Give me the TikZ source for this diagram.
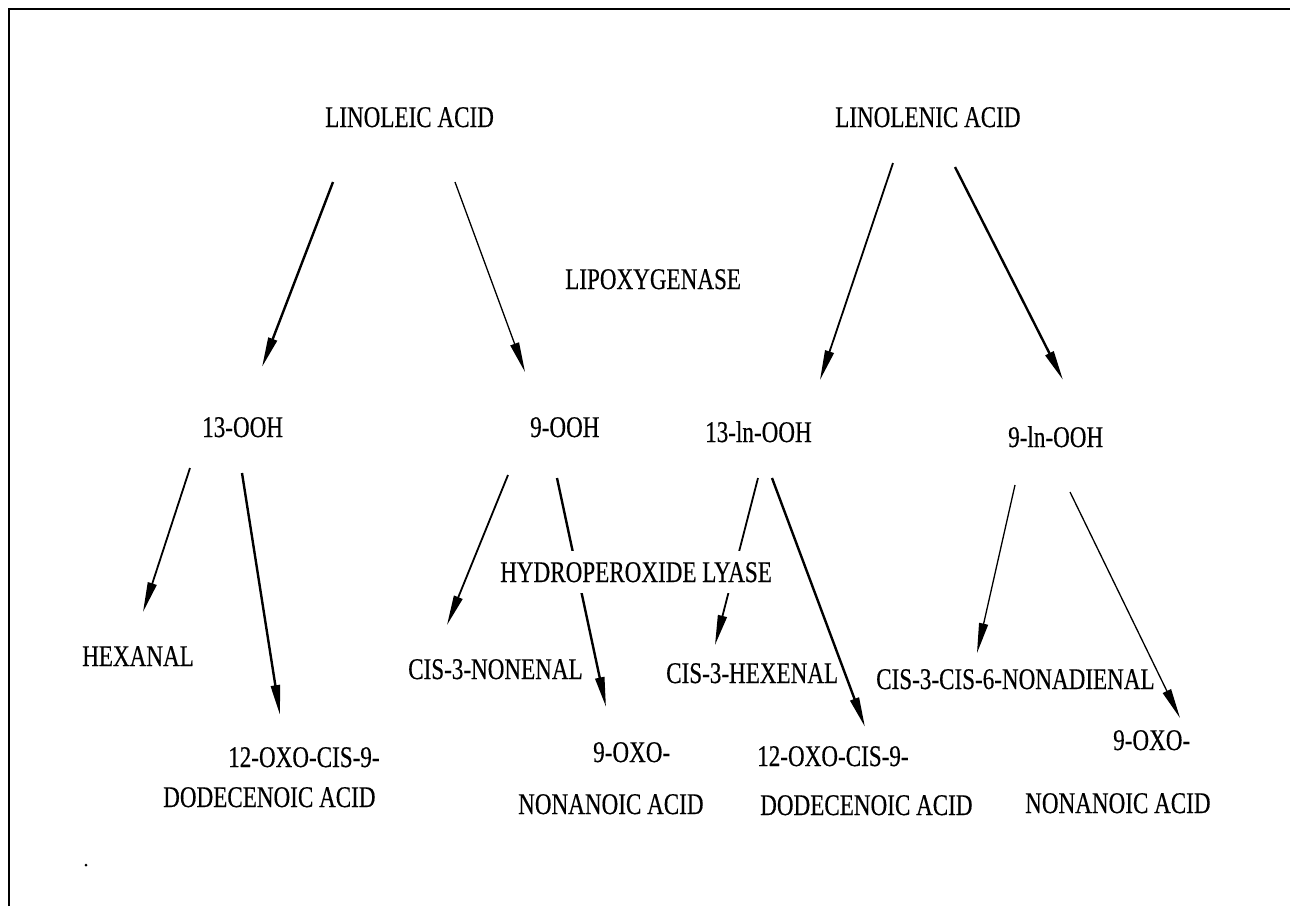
\documentclass[tikz,border=0pt]{standalone}
\usepackage{fontspec}
\setmainfont{Liberation Serif}[FakeStretch=0.77,FakeBold=0.4]
\usetikzlibrary{arrows.meta}
\begin{document}
\begin{tikzpicture}[x=1pt,y=-1pt,
  txt/.style={font=\fontsize{30}{32}\selectfont, inner sep=0pt, anchor=base west},
  arr/.style={-{Triangle[length=30pt,width=9pt]}},
  thin arr/.style={arr, line width=1.3pt},
  mid arr/.style={arr, line width=1.8pt},
  thick arr/.style={arr, line width=2.4pt}]
\useasboundingbox (0,0) rectangle (1290,906);
% frame
\coordinate (fbl) at (9,906);
\coordinate (ftl) at (9,9);
\coordinate (ftr) at (1290,9);
\draw[line width=2pt] (fbl) -- (ftl) -- (ftr);
\fill (86,865) circle (1.5);
% texts
\node[txt] (lnl) at (325,127) {LINOLEIC ACID};
\node[txt] (lnn) at (835,127) {LINOLENIC ACID};
\node[txt] (lox) at (565,289) {LIPOXYGENASE};
\node[txt] (h13) at (202,437) {13-OOH};
\node[txt] (h9) at (530,437) {9-OOH};
\node[txt] (l13) at (705,442) {13-ln-OOH};
\node[txt] (l9) at (1008,447) {9-ln-OOH};
\node[txt] (hex) at (82,666) {HEXANAL};
\node[txt] (nonenal) at (408,679) {CIS-3-NONENAL};
\node[txt] (hexenal) at (666,683) {CIS-3-HEXENAL};
\node[txt] (nonadienal) at (876,689) {CIS-3-CIS-6-NONADIENAL};
\node[txt] (oxoA) at (228,767) {12-OXO-CIS-9-};
\node[txt] (dodA) at (163,807) {DODECENOIC ACID};
\node[txt] (oxoB) at (593,762) {9-OXO-};
\node[txt] (nonB) at (518,814) {NONANOIC ACID};
\node[txt] (oxoC) at (757,766) {12-OXO-CIS-9-};
\node[txt] (dodC) at (760,815) {DODECENOIC ACID};
\node[txt] (oxoD) at (1113,750) {9-OXO-};
\node[txt] (nonD) at (1025,813) {NONANOIC ACID};
% arrow end points
\coordinate (a1s) at (333,182);  \coordinate (a1e) at (262,367);
\coordinate (a2s) at (455,182);  \coordinate (a2e) at (525,372);
\coordinate (a3s) at (893,163);  \coordinate (a3e) at (820,380);
\coordinate (a4s) at (955,167);  \coordinate (a4e) at (1063,380);
\coordinate (a5s) at (190,468);  \coordinate (a5e) at (143,612);
\coordinate (a6s) at (242,473);  \coordinate (a6e) at (280,715);
\coordinate (a7s) at (508,475);  \coordinate (a7e) at (447,625);
\coordinate (a8s) at (557,478);  \coordinate (a8e) at (606,707);
\coordinate (a9s) at (758,478);  \coordinate (a9e) at (715,645);
\coordinate (a10s) at (772,478); \coordinate (a10e) at (865,727);
\coordinate (a11s) at (1015,485); \coordinate (a11e) at (977,653);
\coordinate (a12s) at (1070,492); \coordinate (a12e) at (1180,718);
\draw[thick arr] (a1s) -- (a1e);
\draw[thin arr] (a2s) -- (a2e);
\draw[mid arr] (a3s) -- (a3e);
\draw[thick arr] (a4s) -- (a4e);
\draw[mid arr] (a5s) -- (a5e);
\draw[thick arr] (a6s) -- (a6e);
\draw[mid arr] (a7s) -- (a7e);
\draw[thick arr] (a8s) -- (a8e);
\draw[mid arr] (a9s) -- (a9e);
\draw[thick arr] (a10s) -- (a10e);
\draw[thin arr] (a11s) -- (a11e);
\draw[thin arr] (a12s) -- (a12e);
% label over the lines
\node[txt, fill=white, inner xsep=2pt, inner ysep=11pt] (hpl) at (498,582) {HYDROPEROXIDE LYASE};
\end{tikzpicture}
\end{document}
